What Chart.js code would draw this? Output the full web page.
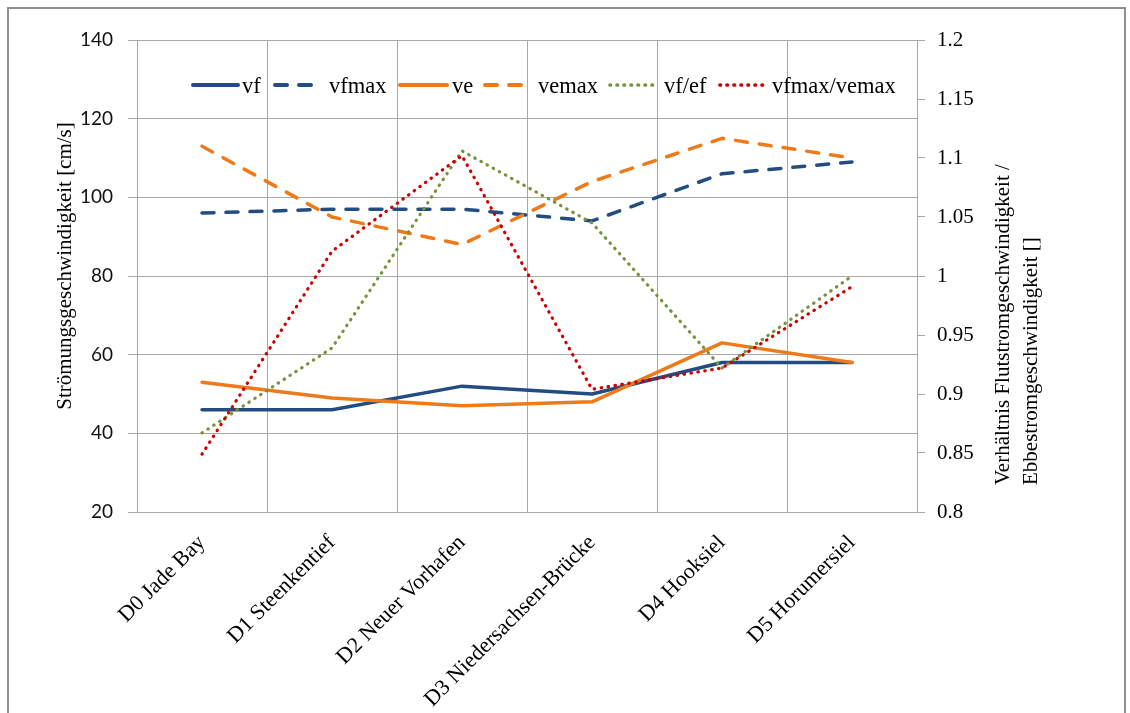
<!DOCTYPE html>
<html>
<head>
<meta charset="utf-8">
<title>Strömungsgeschwindigkeit</title>
<script src="https://cdn.jsdelivr.net/npm/chart.js@4.4.1/dist/chart.umd.min.js"></script>
<style>
  html, body { margin: 0; padding: 0; background: #fff; overflow: hidden; }
  #wrap { position: relative; width: 1130px; height: 713px; }
  #frame { position: absolute; left: 7px; top: 7px; width: 1119px; height: 720px;
           border: 2px solid #8f8f8f; box-sizing: border-box; pointer-events: none; }
  canvas { position: absolute; left: 0; top: 0; }
</style>
</head>
<body>
<div id="wrap">
  <canvas id="c" width="1130" height="713"></canvas>
  <div id="frame"></div>
</div>
<script>
// Measuring stations along the Jade
const categories = ['D0 Jade Bay', 'D1 Steenkentief', 'D2 Neuer Vorhafen',
                    'D3 Niedersachsen-Brücke', 'D4 Hooksiel', 'D5 Horumersiel'];

// Current velocities [cm/s]
const vf    = [46, 46, 52, 50, 58, 58];
const vfmax = [96, 97, 97, 94, 106, 109];
const ve    = [53, 49, 47, 48, 63, 58];
const vemax = [113, 95, 88, 104, 115, 110];

// Flood / ebb ratios []
const vfRatio    = [0.867, 0.939, 1.106, 1.045, 0.922, 1.0];
const vmaxRatio  = [0.849, 1.021, 1.102, 0.904, 0.922, 0.991];

// Axis ranges
const leftTicks  = { min: 20, max: 140, step: 20 };
const rightTicks = { min: 0.8, max: 1.2, step: 0.05 };

const BLUE = '#234d80', ORANGE = '#ee7a1a', GREEN = '#77933c', RED = '#cc0000';
const SERIF = "'Liberation Serif', 'Times New Roman', serif";
const GRID = '#a8a8a8';

const DASH = [12, 12];
const DOT = [0.5, 6.5];

const series = [
  { label: 'vf',          data: vf,        color: BLUE,   dash: [],   axis: 'y',  w: 3.5 },
  { label: 'vfmax',       data: vfmax,     color: BLUE,   dash: DASH, axis: 'y',  w: 3.5 },
  { label: 've',          data: ve,        color: ORANGE, dash: [],   axis: 'y',  w: 3.5 },
  { label: 'vemax',       data: vemax,     color: ORANGE, dash: DASH, axis: 'y',  w: 3.5 },
  { label: 'vf/ef',       data: vfRatio,   color: GREEN,  dash: DOT,  axis: 'y1', w: 3.2 },
  { label: 'vfmax/vemax', data: vmaxRatio, color: RED,    dash: DOT,  axis: 'y1', w: 3.2 }
];

// Legend row inside the plot: sample line start/end and text start
const legendSlots = [
  [191, 240, 242], [273, 316, 329], [398, 449, 452],
  [483, 525, 538], [608, 657, 664], [718, 766, 772]
];
const legendY = 85;

const titlesAndLegend = {
  id: 'titlesAndLegend',
  afterDraw(chart) {
    const ctx = chart.ctx;
    const area = chart.chartArea;
    ctx.save();
    // legend
    series.forEach((s, i) => {
      const [x1, x2, tx] = legendSlots[i];
      ctx.beginPath();
      ctx.strokeStyle = s.color;
      ctx.lineWidth = s.w + 0.5;
      ctx.lineCap = 'round';
      ctx.setLineDash(s.dash);
      ctx.moveTo(x1 + 2, legendY);
      ctx.lineTo(x2 - 2, legendY);
      ctx.stroke();
      ctx.setLineDash([]);
      ctx.fillStyle = '#000';
      ctx.font = '22.5px ' + SERIF;
      ctx.textAlign = 'left';
      ctx.textBaseline = 'alphabetic';
      ctx.fillText(s.label, tx, legendY + 8);
    });
    // left axis title
    ctx.fillStyle = '#000';
    ctx.font = '21px ' + SERIF;
    ctx.save();
    ctx.translate(65, (area.top + area.bottom) / 2 - 10);
    ctx.rotate(-Math.PI / 2);
    ctx.textAlign = 'center';
    ctx.textBaseline = 'middle';
    ctx.fillText('Strömungsgeschwindigkeit [cm/s]', 0, 0);
    ctx.restore();
    // right axis title, two lines
    ctx.save();
    ctx.translate(1003, 485);
    ctx.rotate(-Math.PI / 2);
    ctx.textAlign = 'left';
    ctx.textBaseline = 'middle';
    ctx.fillText('Verhältnis Flutstromgeschwindigkeit /', 0, 0);
    ctx.fillText('Ebbestromgeschwindigkeit []', 0, 28);
    ctx.restore();
    ctx.restore();
  }
};

new Chart(document.getElementById('c'), {
  type: 'line',
  data: {
    labels: categories,
    datasets: series.map((s, i) => ({
      label: s.label,
      data: s.data,
      yAxisID: s.axis,
      borderColor: s.color,
      backgroundColor: s.color,
      borderWidth: s.w,
      borderDash: s.dash,
      borderCapStyle: 'round',
      borderJoinStyle: 'round',
      pointRadius: 0,
      tension: 0,
      fill: false,
      order: series.length - i
    }))
  },
  options: {
    responsive: false,
    animation: false,
    devicePixelRatio: 1,
    layout: { padding: { top: 40, left: 0, right: 0, bottom: 0 } },
    plugins: { legend: { display: false }, tooltip: { enabled: false }, title: { display: false } },
    scales: {
      x: {
        type: 'category',
        offset: true,
        grid: { offset: true, color: GRID, lineWidth: 1, drawTicks: false },
        border: { display: true, color: GRID },
        ticks: {
          autoSkip: false, minRotation: 45, maxRotation: 45, padding: 18,
          color: '#000', font: { family: SERIF, size: 22 }
        },
        afterFit(scale) { scale.height = 713 - 512; }
      },
      y: {
        position: 'left',
        min: leftTicks.min, max: leftTicks.max,
        grid: { color: GRID, lineWidth: 1, tickLength: 9 },
        border: { display: true, color: GRID },
        ticks: {
          stepSize: leftTicks.step, padding: 15, color: '#111',
          font: { family: "Lato, 'Open Sans', sans-serif", size: 19 }
        },
        afterFit(scale) { scale.width = 137; }
      },
      y1: {
        position: 'right',
        min: rightTicks.min, max: rightTicks.max,
        grid: { drawOnChartArea: false, color: GRID, lineWidth: 1, tickLength: 8 },
        border: { display: true, color: GRID },
        ticks: {
          stepSize: rightTicks.step, padding: 12, color: '#000',
          font: { family: SERIF, size: 21 },
          callback: v => String(+v.toFixed(2))
        },
        afterFit(scale) { scale.width = 1130 - 917; }
      }
    }
  },
  plugins: [titlesAndLegend]
});
</script>
</body>
</html>
